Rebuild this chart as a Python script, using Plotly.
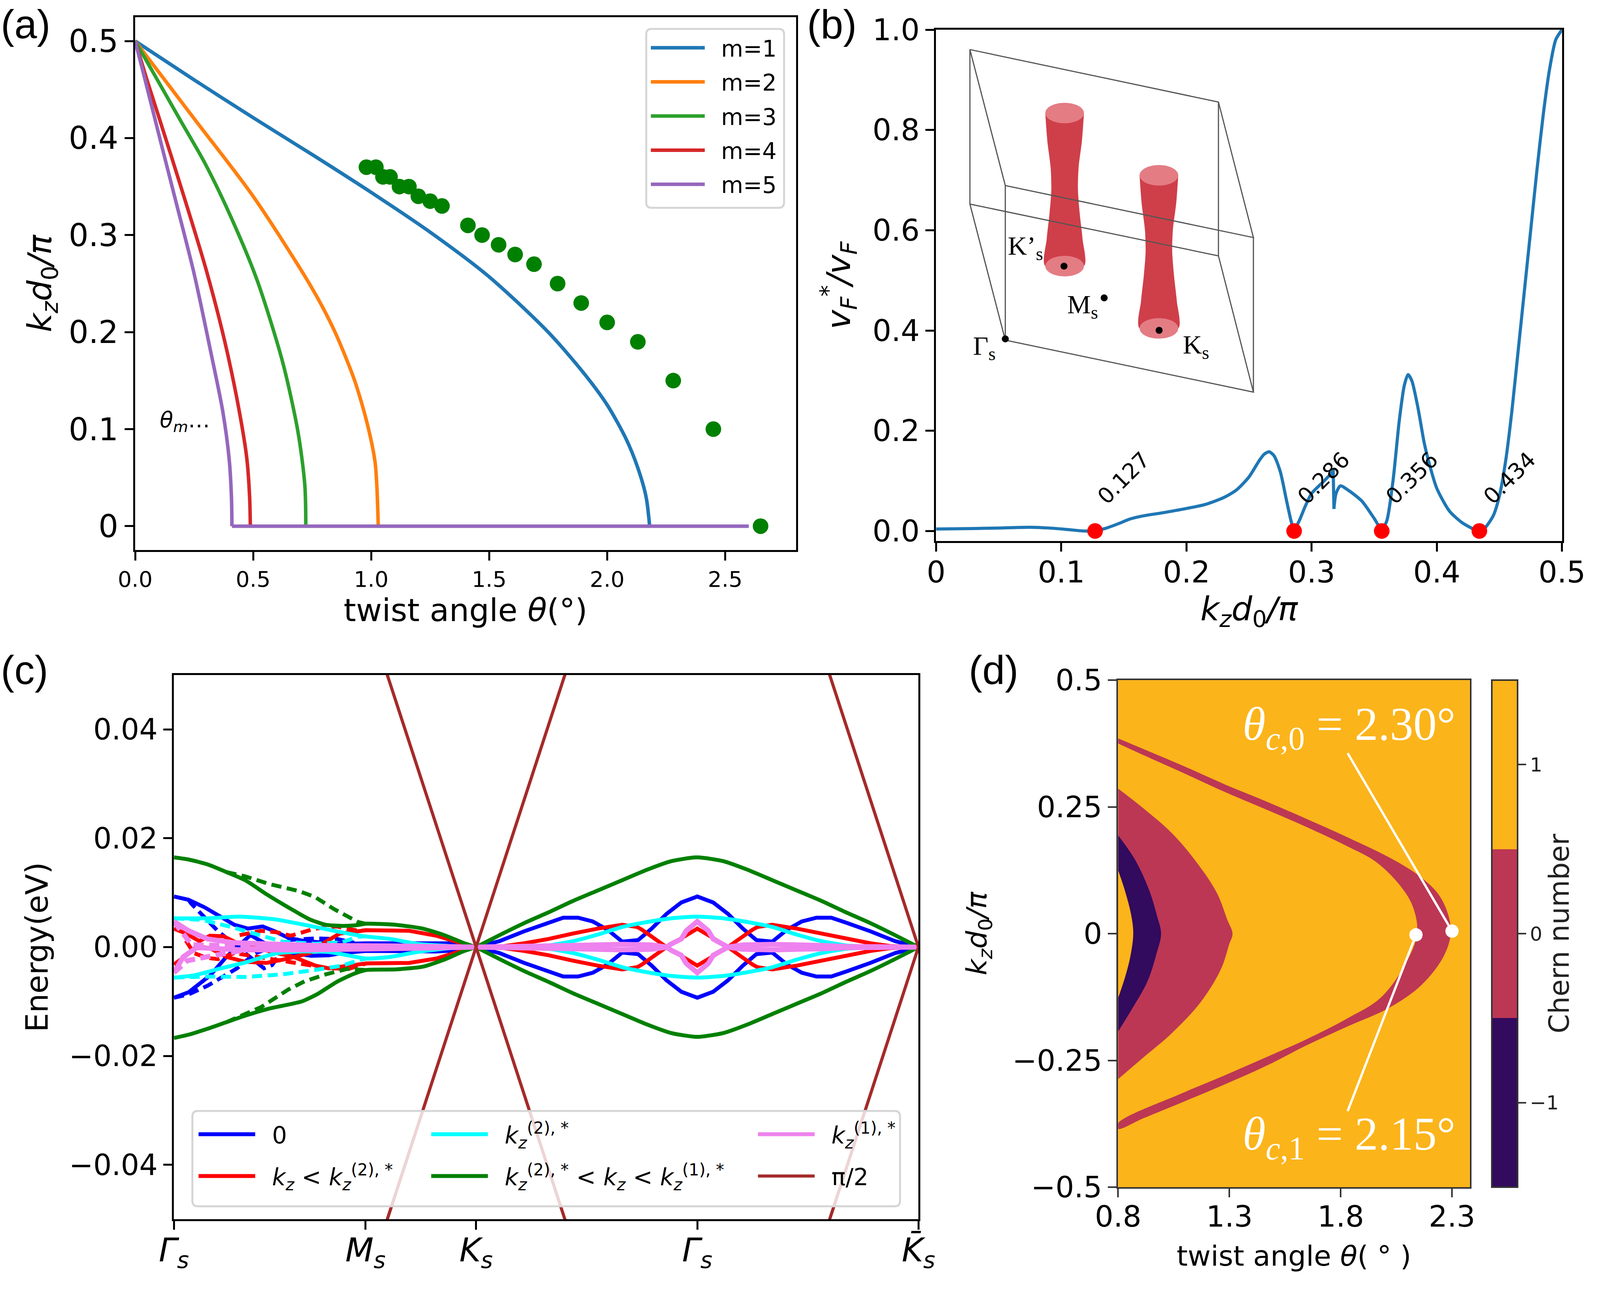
import numpy as np
import plotly.graph_objects as go

W, H = 4167, 3333   # reference frame; every position below is a fraction of it
DEJAVU = "DejaVu Sans"
SERIF = "Liberation Serif"
ARIAL = "Liberation Sans"

# ---------- panel (a) ----------
m_labels = ["m=1", "m=2", "m=3", "m=4", "m=5"]
m_colors = ["#1f77b4", "#ff7f0e", "#2ca02c", "#d62728", "#9467bd"]
m1_t = [0, .25, .5, .75, 1.0, 1.25, 1.5, 1.75, 1.9, 2.0, 2.08, 2.13, 2.165, 2.18]
m1_k = [.5, .46, .421, .383, .344, .303, .257, .20, .158, .125, .09, .06, .03, 0]
m2_t = [0, .1, .25, .5, .75, .843, .93, .984, 1.017, 1.03]
m2_k = [.5, .468, .42, .34, .245, .202, .15, .105, .065, 0]
m3_t = [0, .08, .19, .298, .407, .516, .625, .69, .719, .723]
m3_k = [.5, .466, .419, .373, .318, .254, .169, .097, .042, 0]
m4_t = [0, .05, .1, .2, .3, .38, .44, .473, .485, .488]
m4_k = [.5, .46, .422, .345, .265, .19, .12, .07, .03, 0]
m5_t = [0, .04, .1, .17, .25, .32, .37, .398, .408, .41]
m5_k = [.5, .462, .404, .337, .26, .18, .12, .07, .03, 0]
base_t = [0.41, 2.6]
base_k = [0, 0]
dots_t = [.98, 1.02, 1.05, 1.08, 1.12, 1.16, 1.2, 1.25, 1.3, 1.41, 1.47, 1.54, 1.61, 1.69, 1.79, 1.89, 2.0, 2.13, 2.28, 2.45, 2.65]
dots_k = [.37, .37, .36, .36, .35, .35, .34, .335, .33, .31, .30, .29, .28, .27, .25, .23, .21, .19, .15, .10, 0]

# ---------- panel (b) ----------
vf_k = [0, .03, .05, .075, .09, .105, .118, .127, .135, .145, .155, .165, .18, .2, .215, .23, .24, .25, .258, .262, .266, .27, .275, .28, .284, .286, .29, .295, .30, .31, .3165, .3172]
vf_v = [.004, .005, .006, .0075, .006, .003, 0, .0005, .005, .014, .024, .03, .036, .045, .053, .067, .082, .108, .14, .153, .158, .15, .118, .06, .016, .003, .02, .05, .075, .1, .118, .125]
vf2_k = [.3178, .3195, .323, .33, .34, .35, .356, .36, .365, .37, .374, .377, .38, .385, .39, .395, .40, .41, .42, .43, .434, .438, .445, .45, .455, .46, .465, .47, .475, .48, .485, .49, .495, .5]
vf2_v = [.044, .075, .09, .08, .06, .025, .003, .02, .1, .22, .29, .312, .30, .245, .175, .125, .085, .04, .017, .003, 0, .005, .03, .07, .14, .24, .36, .48, .6, .72, .83, .92, .98, 1.0]
node_k = [.127, .286, .356, .434]
node_y = [0, 0, 0, 0]
node_labels = ["0.127", "0.286", "0.356", "0.434"]

# ---------- panel (c) ----------
c_tickvals = [0, .866, 1.366, 2.366, 3.366]
c_ticktext = ["<i>Γ<sub>s</sub></i>", "<i>M<sub>s</sub></i>", "<i>K<sub>s</sub></i>", "<i>Γ<sub>s</sub></i>", "<i>K̄<sub>s</sub></i>"]
c_names = ["0", "<i>k<sub>z</sub></i> &lt; <i>k<sub>z</sub></i><sup>(2), *</sup>", "<i>k<sub>z</sub></i><sup>(2), *</sup>",
           "<i>k<sub>z</sub></i><sup>(2), *</sup> &lt; <i>k<sub>z</sub></i> &lt; <i>k<sub>z</sub></i><sup>(1), *</sup>",
           "<i>k<sub>z</sub></i><sup>(1), *</sup>", "π/2"]
BLUE, RED, CYAN, GREEN, VIOLET, BROWN = "#0000ff", "#ff0000", "#00ffff", "#008000", "#ee82ee", "#a52a2a"
# offset from the central Gamma point, shared on both sides
t_green = [0, .117, .228, .339, .45, .561, .672, .783, .894, 1]
e_green = [.0165, .0158, .0142, .0123, .0104, .0085, .0064, .0044, .0022, 0]
t_blue = [0, .072, .139, .206, .267, .339, .406, .472, .539, .606, .672, .783, .894, 1]
e_blue = [.0093, .0082, .0061, .0034, .0013, .001, .0032, .0047, .0054, .0054, .0045, .0029, .0011, 0]
t_red = [0, .07, .105, .139, .18, .206, .25, .272, .339, .45, .561, .672, .783, .872, 1]
e_red = [.0034, .0017, .0008, 0, .0012, .002, .0032, .0037, .0041, .0034, .0025, .0015, .0007, .0002, 0]
t_cyan = [0, .117, .228, .339, .45, .561, .672, .783, 1]
e_cyan = [.0056, .0053, .0046, .0037, .0023, .0011, .0003, .0001, 0]
t_violet = [0, .05, .072, .117, .139, .206, .339, .561, .672, 1]
e_violet = [.0047, .003, .0015, .0006, 0, .0004, .0005, .0003, .0001, 0]
# Gamma -> M -> K segment
gs_t = [0, .066, .152, .237, .322, .419, .517, .614, .687, .76, .82, .87, 1.003, 1.125, 1.222, 1.307, 1.366]
gs_e = [.0165, .0161, .0152, .0138, .0123, .0097, .0073, .0051, .0041, .0039, .004, .0043, .0041, .0034, .0022, .0008, 0]
gs2_t = [0, .066, .152, .237, .322, .431, .577, .65, .736, .808, .87, 1.003, 1.125, 1.222, 1.307, 1.366]
gs2_e = [-.0167, -.0161, -.015, -.0138, -.0126, -.0113, -.01, -.0086, -.0064, -.005, -.0042, -.0041, -.0036, -.0023, -.0008, 0]
gd_t = [.237, .322, .431, .565, .638, .723, .833, .866]
gd_e = [.0138, .013, .0116, .0103, .0092, .007, .0046, .0043]
gd2_t = [.237, .322, .395, .517, .59, .687, .784, .866]
gd2_e = [-.0138, -.0122, -.011, -.0078, -.0063, -.005, -.004, -.0042]
bs_t = [0, .066, .139, .212, .273, .334, .401, .456, .517, .59, .76, .87, 1.064, 1.186, 1.283, 1.366]
bs_e = [.0093, .0087, .0073, .0056, .0041, .0034, .0038, .0029, .0017, .0011, .0006, .0007, .0007, .0008, .0007, 0]
bs2_t = [0, .066, .164, .237, .28, .346, .407, .47, .55, .62, .70, .76, .87, 1.064, 1.186, 1.283, 1.366]
bs2_e = [-.0093, -.0083, -.0052, -.0018, -.0002, .0022, .0008, -.0003, -.0012, -.0016, -.0015, -.0011, -.0007, -.0008, -.0008, -.0006, 0]
bd_t = [.066, .078, .2, .273, .346, .407, .444, .48, .517, .638, .736, .815]
bd_e = [.0087, .008, .0029, .0005, -.0021, -.0039, -.0033, -.0012, .0013, .0016, .0015, .0008]
bd2_t = [0, .066, .152, .237, .285, .37, .43]
bd2_e = [-.0093, -.0087, -.0071, -.005, -.0039, -.0011, -.0002]
rs_t = [0, .054, .115, .163, .224, .273, .358, .443, .54, .64, .7, .87, 1.064, 1.186, 1.283, 1.366]
rs_e = [.0034, .0025, .0011, .0021, .002, .001, .0001, -.0009, -.0018, -.0034, -.0039, -.003, -.0029, -.0021, -.0009, 0]
rs2_t = [0, .054, .103, .163, .237, .322, .419, .505, .614, .687, .75, .87, 1.064, 1.186, 1.283, 1.366]
rs2_e = [-.0032, -.0016, .0002, -.0002, -.0018, -.0027, -.0029, -.0022, -.0011, .001, .0025, .0031, .003, .0021, .0009, 0]
rd_t = [.297, .395, .468, .529, .638, .736, .833, .87]
rd_e = [.0022, .003, .0027, .0021, .0034, .0038, .003, .0031]
rd2_t = [.054, .09, .151, .2, .273, .7, .79, .87]
rd2_e = [.0012, -.0011, -.002, -.0022, -.0011, -.0039, -.004, -.003]
cs_t = [0, .15, .297, .456, .59, .736, .857, .979, 1.1, 1.247, 1.366]
cs_e = [.0053, .0053, .0056, .0051, .0041, .0029, .002, .0015, .0006, .0002, 0]
cs2_t = [0, .09, .212, .334, .456, .577, .7, .784, .87, .979, 1.1, 1.247, 1.366]
cs2_e = [-.0056, -.0052, -.0039, -.0027, -.0012, -.0008, -.0009, -.0015, -.0021, -.0018, -.0009, -.0002, 0]
cd_t = [0, .127, .249, .395, .492, .638, .76, .833, .87]
cd_e = [.0053, .005, .0038, .0022, .001, .0006, .0009, .0019, .002]
cd2_t = [0, .15, .322, .492, .638, .76, .845, .87]
cd2_e = [-.0056, -.0054, -.0055, -.005, -.0042, -.0034, -.0023, -.0021]
vs_t = [0, .066, .152, .273, .419, .638, 1.0, 1.366]
vs_e = [.0047, .003, .0015, .0008, .0006, .0003, .0002, 0]
vs2_t = [0, .042, .103, .3, .6, .9, 1.1, 1.366]
vs2_e = [-.0047, -.0018, -.0001, -.0005, -.0005, -.0004, -.0002, 0]
vd_t = [0, .05, .08, .2, .5, .87]
vd_e = [.0047, .0022, .0004, .0003, .0002, .0002]
vd2_t = [0, .06, .16, .27, .35, .6, .87]
vd2_e = [-.0047, -.0025, -.0017, -.0008, -.0003, -.0002, -.0002]
brown_t = [.866, 1.366, 2.366, 3.366]
brown_e = [.0623, 0, .1246, 0]

# ---------- panel (d) ----------
d_xticks = [.8, 1.3, 1.8, 2.3]
d_yticks = [.5, .25, 0, -.25, -.5]
d_yticktext = ["0.5", "0.25", "0", "−0.25", "−0.5"]
CHERN_HI, CHERN_MID, CHERN_LO = "#fbb41a", "#bc3754", "#320a5e"
band_t = [.8, .914, 1.097, 1.281, 1.464, 1.648, 1.831, 2.015, 2.143, 2.235, 2.281, 2.294, 2.262, 2.161, 2.015, 1.831, 1.648, 1.464, 1.281, 1.097, .914, .8,
          .8, 1.097, 1.281, 1.464, 1.648, 1.831, 1.978, 2.088, 2.143, 2.125, 2.07, 1.96, 1.831, 1.648, 1.464, 1.281, 1.097, .914, .8]
band_k = [.385, .364, .33, .294, .261, .226, .19, .151, .117, .08, .04, 0, -.045, -.102, -.147, -.183, -.22, -.261, -.297, -.331, -.364, -.385,
          -.374, -.313, -.279, -.244, -.208, -.167, -.127, -.062, 0, .052, .093, .141, .172, .21, .245, .279, .316, .352, .375]
mid_t = [.8, .914, 1.042, 1.152, 1.244, 1.29, 1.314, 1.299, 1.262, 1.171, 1.042, .914, .8]
mid_k = [.286, .247, .198, .141, .08, .028, 0, -.021, -.07, -.135, -.196, -.244, -.287]
low_t = [.8, .877, .941, .974, .993, .974, .932, .859, .8]
low_k = [.194, .145, .084, .036, 0, -.037, -.094, -.151, -.193]
core_t = [.8, .831, .859, .868, .855, .831, .8]
core_k = [.125, .084, .036, 0, -.045, -.086, -.127]
crit_t = [2.30, 2.138]
crit_k = [.005, -.0024]
crit_from_t = [1.831, 1.831]
crit_from_k = [.356, -.35]

# ---------- inset of (b), in its own drawing units ----------
frame_x = [48, 1242, 1410, 218, 48, 48, 1242, 1410, 218, 48, None, 1242, 1242, None, 1410, 1410, None, 218, 218]
frame_y = [75, 290, 845, 632, 75, 708, 920, 1478, 1265, 708, None, 290, 920, None, 845, 1478, None, 632, 1265]
tube_dy = [0, 115, 225, 315, 415, 515, 627]
tube_hw = [93, 83, 67, 64, 73, 86, 93]
tube_cx = [503, 956]
tube_cy = [335, 590]
inset_dot_x = [500, 957, 693, 218]
inset_dot_y = [962, 1225, 1092, 1260]


def dx(a, b):
    return [a / W, b / W]


def dy(top, bottom):
    return [1 - bottom / H, 1 - top / H]


def rrect(x0, y0, x1, y1, r):
    X = lambda v: f"{v / W:.6f}"
    Y = lambda v: f"{1 - v / H:.6f}"
    return (f"M {X(x0 + r)} {Y(y0)} L {X(x1 - r)} {Y(y0)} Q {X(x1)} {Y(y0)} {X(x1)} {Y(y0 + r)} "
            f"L {X(x1)} {Y(y1 - r)} Q {X(x1)} {Y(y1)} {X(x1 - r)} {Y(y1)} L {X(x0 + r)} {Y(y1)} "
            f"Q {X(x0)} {Y(y1)} {X(x0)} {Y(y1 - r)} L {X(x0)} {Y(y0 + r)} Q {X(x0)} {Y(y0)} {X(x0 + r)} {Y(y0)} Z")


fig = go.Figure()

# panel a
for lab, col, tt, kk in zip(m_labels, m_colors, [m1_t, m2_t, m3_t, m4_t, m5_t], [m1_k, m2_k, m3_k, m4_k, m5_k]):
    fig.add_trace(go.Scatter(x=tt, y=kk, mode="lines", name="\u00a0\u00a0" + lab, legendgroup=lab, legend="legend",
                             line=dict(color=col, width=9, shape="spline", smoothing=.8), xaxis="x", yaxis="y"))
fig.add_trace(go.Scatter(x=base_t, y=base_k, mode="lines", showlegend=False, line=dict(color=m_colors[4], width=9),
                         xaxis="x", yaxis="y"))
fig.add_trace(go.Scatter(x=dots_t, y=dots_k, mode="markers", showlegend=False, marker=dict(color="#008000", size=40),
                         xaxis="x", yaxis="y"))

# panel b
for xx, yy, sh in [(vf_k, vf_v, "spline"), (vf_k[-1:] + vf2_k[:1], vf_v[-1:] + vf2_v[:1], "linear"), (vf2_k, vf2_v, "spline")]:
    fig.add_trace(go.Scatter(x=xx, y=yy, mode="lines", showlegend=False, line=dict(color="#1f77b4", width=8, shape=sh, smoothing=.7),
                             xaxis="x2", yaxis="y2"))
fig.add_trace(go.Scatter(x=node_k, y=node_y, mode="markers", showlegend=False, marker=dict(color="#ff0000", size=40),
                         xaxis="x2", yaxis="y2"))


# panel c
def gamma_sym(t, e, sign):
    t = np.array(t)
    e = np.array(e) * sign
    return np.r_[2.366 - t[::-1], 2.366 + t[1:]], np.r_[e[::-1], e[1:]]


def add_c(x, y, col, width=10, dash=None, name=None, legend=None, shape="linear"):
    fig.add_trace(go.Scatter(x=x, y=y, mode="lines", name=("\u00a0\u00a0" + name) if name else None, showlegend=name is not None, legend=legend,
                             legendgroup=name, line=dict(color=col, width=width, dash=dash, shape=shape, smoothing=.6), xaxis="x3", yaxis="y3"))


DASH = "26px,14px"
add_c(bs_t, bs_e, BLUE, name=c_names[0], legend="legend2")
add_c(bs2_t, bs2_e, BLUE)
add_c(bd_t, bd_e, BLUE, dash=DASH)
add_c(bd2_t, bd2_e, BLUE, dash=DASH)
for s in (1, -1):
    add_c(*gamma_sym(t_blue, e_blue, s), BLUE)
add_c(rs_t, rs_e, RED, name=c_names[1], legend="legend2")
add_c(rs2_t, rs2_e, RED)
add_c(rd_t, rd_e, RED, dash=DASH)
add_c(rd2_t, rd2_e, RED, dash=DASH)
for s in (1, -1):
    add_c(*gamma_sym(t_red, e_red, s), RED)
add_c(gs_t, gs_e, GREEN, shape="spline")
add_c(gs2_t, gs2_e, GREEN, shape="spline")
add_c(gd_t, gd_e, GREEN, dash=DASH)
add_c(gd2_t, gd2_e, GREEN, dash=DASH)
for s in (1, -1):
    add_c(*gamma_sym(t_green, e_green, s), GREEN, shape="spline")
add_c(cs_t, cs_e, CYAN, name=c_names[2], legend="legend3", shape="spline")
add_c(cs2_t, cs2_e, CYAN, shape="spline")
add_c(cd_t, cd_e, CYAN, dash=DASH)
add_c(cd2_t, cd2_e, CYAN, dash=DASH)
for s in (1, -1):
    add_c(*gamma_sym(t_cyan, e_cyan, s), CYAN, shape="spline")
add_c([None], [None], GREEN, name=c_names[3], legend="legend3")
add_c(vs_t, vs_e, VIOLET, width=13, name=c_names[4], legend="legend4")
add_c(vs2_t, vs2_e, VIOLET, width=13)
add_c(vd_t, vd_e, VIOLET, width=13, dash=DASH)
add_c(vd2_t, vd2_e, VIOLET, width=13, dash=DASH)
for s in (1, -1):
    add_c(*gamma_sym(t_violet, e_violet, s), VIOLET, width=13)
add_c(brown_t, brown_e, BROWN, width=8, name=c_names[5], legend="legend4")
add_c(brown_t, -np.array(brown_e), BROWN, width=8)

# panel d
fig.add_trace(go.Heatmap(x=[.7, 2.5], y=[-.6, .6], z=[[1, 1], [1, 1]], zmin=-1.5, zmax=1.5, showscale=True,
                         colorscale=[[0, CHERN_LO], [1 / 3, CHERN_LO], [1 / 3, CHERN_MID], [2 / 3, CHERN_MID], [2 / 3, CHERN_HI], [1, CHERN_HI]],
                         colorbar=dict(x=3885 / W, xanchor="left", y=1 - 3039 / H, yanchor="bottom",
                                       len=(3039 - 1741) / H, lenmode="fraction", thickness=66, thicknessmode="pixels",
                                       xpad=0, ypad=0, outlinewidth=4, outlinecolor="#333333",
                                       tickvals=[-1, 0, 1], ticktext=["−1", "0", "1"], ticks="outside", ticklen=20,
                                       tickwidth=4, tickcolor="#333333", tickfont=dict(family=DEJAVU, size=50, color="#222222"),
                                       title=dict(text="Chern number", side="right", font=dict(family=DEJAVU, size=71, color="#222222"))),
                         xaxis="x4", yaxis="y4", hoverinfo="skip"))
for tt, kk, col in [(band_t, band_k, CHERN_MID), (mid_t, mid_k, CHERN_MID), (low_t, low_k, CHERN_LO), (core_t, core_k, CHERN_HI)]:
    fig.add_trace(go.Scatter(x=tt, y=kk, mode="lines", fill="toself", fillcolor=col, line=dict(width=0, color=col, shape="spline", smoothing=1),
                             showlegend=False, xaxis="x4", yaxis="y4"))
for i in range(2):
    fig.add_trace(go.Scatter(x=[crit_from_t[i], crit_t[i]], y=[crit_from_k[i], crit_k[i]], mode="lines", showlegend=False,
                             line=dict(color="white", width=6), xaxis="x4", yaxis="y4"))
fig.add_trace(go.Scatter(x=crit_t, y=crit_k, mode="markers", showlegend=False, marker=dict(color="white", size=34),
                         xaxis="x4", yaxis="y4"))

# inset
ang = np.linspace(0, 2 * np.pi, 60)
for cx, cy in zip(tube_cx, tube_cy):
    yy = np.array(tube_dy) + cy
    hw = np.array(tube_hw)
    fig.add_trace(go.Scatter(x=np.r_[cx - hw, (cx + hw)[::-1]], y=np.r_[yy, yy[::-1]], mode="lines", fill="toself",
                             fillcolor="#cf3f49", line=dict(width=0, color="#cf3f49", shape="spline", smoothing=.8), showlegend=False,
                             xaxis="x5", yaxis="y5"))
    for ey in (cy, cy + 627):
        fig.add_trace(go.Scatter(x=cx + 93 * np.cos(ang), y=ey + 42 * np.sin(ang), mode="lines", fill="toself",
                                 fillcolor="#e47c84", line=dict(width=0, color="#e47c84"), showlegend=False,
                                 xaxis="x5", yaxis="y5"))
fig.add_trace(go.Scatter(x=frame_x, y=frame_y, mode="lines", line=dict(color="#555555", width=3), showlegend=False,
                         xaxis="x5", yaxis="y5"))
fig.add_trace(go.Scatter(x=inset_dot_x, y=inset_dot_y, mode="markers", marker=dict(color="black", size=18), showlegend=False,
                         xaxis="x5", yaxis="y5"))


def axis(domain, rng, anchor, tickvals, ticktext, tsize, title=None, tfont=84, standoff=10, color="black", lw=5, **kw):
    d = dict(domain=domain, range=rng, anchor=anchor, tickmode="array", tickvals=tickvals, ticktext=ticktext,
             showgrid=False, zeroline=False, showline=True, mirror=True, linecolor=color, linewidth=lw,
             ticks="outside", ticklen=22, tickwidth=lw, tickcolor=color, automargin=False,
             tickfont=dict(family=DEJAVU, size=tsize, color="black"))
    if title:
        d["title"] = dict(text=title, font=dict(family=DEJAVU, size=tfont, color="black"), standoff=standoff)
    d.update(kw)
    return d


KD = "<i>k<sub>z</sub>d</i><sub>0</sub><i>/π</i>"
TW = "twist angle <i>θ</i>(°)"
LG = dict(bgcolor="rgba(0,0,0,0)", borderwidth=0, orientation="v")
layout = dict(
    margin=dict(l=0, r=0, t=0, b=0), paper_bgcolor="white", plot_bgcolor="white",
    autosize=True,
    xaxis=axis(dx(352, 2073), [0, 2.8], "y", [0, .5, 1, 1.5, 2, 2.5], ["0.0", "0.5", "1.0", "1.5", "2.0", "2.5"], 56, TW, tfont=81, standoff=18),
    yaxis=axis(dy(44, 1408), [-.0246, .5246], "x", [0, .1, .2, .3, .4, .5], ["0", "0.1", "0.2", "0.3", "0.4", "0.5"], 80, KD, standoff=18),
    xaxis2=axis(dx(2438, 4068), [0, .5], "y2", [0, .1, .2, .3, .4, .5], ["0", "0.1", "0.2", "0.3", "0.4", "0.5"], 76, KD, standoff=22, ticklabelstandoff=-12),
    yaxis2=axis(dy(76, 1385), [-.02, 1.0], "x2", [0, .2, .4, .6, .8, 1], ["0.0", "0.2", "0.4", "0.6", "0.8", "1.0"], 76,
                "<i>v<sub>F</sub><sup>*</sup>/v<sub>F</sub></i>", standoff=30),
    xaxis3=axis(dx(453, 2392), [0, 3.366], "y3", c_tickvals, c_ticktext, 84, ticklabelstandoff=-20),
    yaxis3=axis(dy(1728, 3121), [-.05, .05], "x3", [-.04, -.02, 0, .02, .04], ["−0.04", "−0.02", "0.00", "0.02", "0.04"], 74, "Energy(eV)", tfont=78, standoff=30),
    xaxis4=axis(dx(2912, 3828), [.8, 2.38], "y4", d_xticks, ["0.8", "1.3", "1.8", "2.3"], 75, "twist angle <i>θ</i>( ° )", tfont=72, color="#333333", lw=4, standoff=34, ticklabelstandoff=-15),
    yaxis4=axis(dy(1741, 3039), [-.5, .5], "x4", d_yticks, d_yticktext, 75, KD, tfont=72, color="#333333", lw=4, standoff=43),
    xaxis5=dict(domain=dx(2500, 3350), range=[0, 1568], anchor="y5", visible=False),
    yaxis5=dict(domain=dy(80, 1060), range=[1568, 0], anchor="x5", visible=False),
    showlegend=True,
    legend=dict(x=1690 / W, xanchor="left", y=1 - 78 / H, yanchor="top", font=dict(family=DEJAVU, size=58, color="black"),
                itemwidth=138, tracegroupgap=9, **LG),
    legend2=dict(x=512 / W, xanchor="left", y=1 - 2858 / H, yanchor="top", font=dict(family=DEJAVU, size=60, color="black"),
                 itemwidth=145, tracegroupgap=26, **LG),
    legend3=dict(x=1118 / W, xanchor="left", y=1 - 2858 / H, yanchor="top", font=dict(family=DEJAVU, size=60, color="black"),
                 itemwidth=145, tracegroupgap=26, **LG),
    legend4=dict(x=1969 / W, xanchor="left", y=1 - 2858 / H, yanchor="top", font=dict(family=DEJAVU, size=60, color="black"),
                 itemwidth=145, tracegroupgap=26, **LG),
    shapes=[
        dict(type="path", xref="paper", yref="paper", path=rrect(1683, 74, 2042, 532, 14), fillcolor="rgba(255,255,255,.8)",
             line=dict(color="#d5d5d5", width=5), layer="above"),
        dict(type="path", xref="paper", yref="paper", path=rrect(501, 2844, 2344, 3088, 14), fillcolor="rgba(255,255,255,.8)",
             line=dict(color="#d5d5d5", width=5), layer="above"),
    ],
)
fig.update_layout(**layout)


def note(text, x, y, xref, yref, size, family=DEJAVU, color="black", angle=0, xanchor="center"):
    fig.add_annotation(text=text, x=x, y=y, xref=xref, yref=yref, showarrow=False, xanchor=xanchor, yanchor="middle",
                       font=dict(family=family, size=size, color=color), textangle=angle)


for lab, px_x, px_y in [("(a)", 0, 62), ("(b)", 2100, 62), ("(c)", 0, 1715), ("(d)", 2521, 1715)]:
    note(lab, px_x / W, 1 - px_y / H, "paper", "paper", 104, family=ARIAL, xanchor="left")
note("<i>θ<sub>m</sub></i>…", .211, .108, "x", "y", 56)
for lab, xx in zip(node_labels, [.1497, .3095, .380, .458]):
    note(lab, xx, .106, "x2", "y2", 56, angle=-45)
note("K’<sub>s</sub>", 315, 885, "x5", "y5", 68, family=SERIF)
note("M<sub>s</sub>", 590, 1125, "x5", "y5", 68, family=SERIF)
note("Γ<sub>s</sub>", 118, 1295, "x5", "y5", 68, family=SERIF)
note("K<sub>s</sub>", 1135, 1290, "x5", "y5", 68, family=SERIF)
note("<i>θ</i><sub><i>c</i>,0</sub> = 2.30°", 1.837, .407, "x4", "y4", 120, family=SERIF, color="white")
note("<i>θ</i><sub><i>c</i>,1</sub> = 2.15°", 1.837, -.401, "x4", "y4", 120, family=SERIF, color="white")

fig.write_html("out.html", config=dict(displayModeBar=False, responsive=True),
               default_width="100vw", default_height="100vh",
               post_script="document.body.style.margin='0';document.documentElement.style.overflow='hidden';window.dispatchEvent(new Event('resize'));")
